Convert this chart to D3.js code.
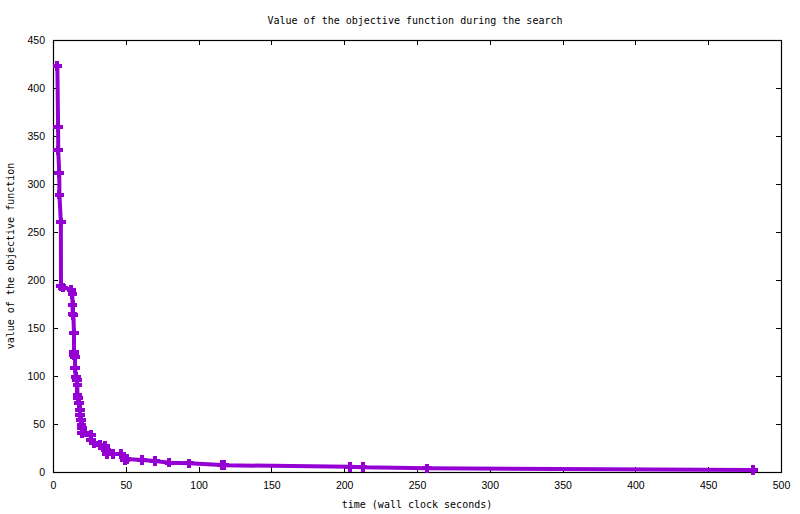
<!DOCTYPE html>
<html>
<head>
<meta charset="utf-8">
<script src="https://cdn.jsdelivr.net/npm/d3@7"></script>
<style>
  body { margin: 0; background: #fff; }
  svg { display: block; }
  .tick text { font-family: "Liberation Sans", Arial, sans-serif; font-size: 10.5px; fill: #000; }
  .lbl { font-family: "DejaVu Sans Mono", monospace; font-size: 10px; fill: #000; }
</style>
</head>
<body>
<svg id="chart" width="800" height="514"></svg>
<script>
// wall clock seconds and objective value at each improvement
const times = [3.0, 3.5, 3.6, 4.3, 4.4, 5.4, 5.5, 6.8, 12.6, 13.3, 13.4, 13.5, 14.0, 14.4, 14.4,
  14.5, 15.1, 15.2, 15.6, 16.3, 16.7, 16.8, 17.3, 17.8, 18.5, 18.6, 19.2, 19.6, 19.8, 19.8,
  22.0, 25.9, 26.0, 28.4, 32.3, 35.7, 36.4, 36.9, 41.4, 46.5, 48.3, 49.5, 50.5, 61.0, 70.0,
  80.0, 93.4, 115.9, 117.4, 204.0, 212.7, 257.0, 480.8];
const values = [423, 359, 335, 311, 289, 260, 194, 192, 190, 185, 174, 165, 163.5, 144.5, 125.3,
  122, 119.4, 108, 99.3, 95.8, 90.6, 80.2, 76.7, 71.5, 64.6, 59.4, 54.2, 49, 45.5, 40.3,
  41, 38.5, 33.3, 29.9, 28, 27, 23, 18.8, 18.8, 18.8, 16, 12.5, 13.5, 12.5, 11.5,
  9.7, 9, 7.3, 7, 5.5, 4.9, 3.8, 2.1];
const xTicks = [0, 50, 100, 150, 200, 250, 300, 350, 400, 450, 500];
const yTicks = [0, 50, 100, 150, 200, 250, 300, 350, 400, 450];

const width = 800, height = 514;
const margin = { left: 53, right: 19, top: 40, bottom: 42 };
const color = '#9400d3';

const svg = d3.select('#chart');

const x = d3.scaleLinear().domain([0, 500]).range([margin.left, width - margin.right]);
const y = d3.scaleLinear().domain([0, 450]).range([height - margin.bottom, margin.top]);

const pts = times.map((t, i) => [t, values[i]]);

// axes with inward ticks, mirrored on top and right
svg.append('g')
  .attr('transform', `translate(0,${y(0)})`)
  .call(d3.axisBottom(x).tickValues(xTicks).tickSizeInner(-5).tickSizeOuter(0).tickPadding(10))
  .call(g => g.select('.domain').remove());
svg.append('g')
  .attr('transform', `translate(0,${y(450)})`)
  .call(d3.axisTop(x).tickValues(xTicks).tickSizeInner(-5).tickSizeOuter(0).tickFormat(''))
  .call(g => g.select('.domain').remove());
svg.append('g')
  .attr('transform', `translate(${x(0)},0)`)
  .call(d3.axisLeft(y).tickValues(yTicks).tickSizeInner(-5).tickSizeOuter(0).tickPadding(8))
  .call(g => g.select('.domain').remove());
svg.append('g')
  .attr('transform', `translate(${x(500)},0)`)
  .call(d3.axisRight(y).tickValues(yTicks).tickSizeInner(-5).tickSizeOuter(0).tickFormat(''))
  .call(g => g.select('.domain').remove());

svg.selectAll('.tick line').attr('shape-rendering', 'crispEdges');

// border
svg.append('rect')
  .attr('x', x(0) + 0.5)
  .attr('y', y(450) + 0.5)
  .attr('width', x(500) - x(0))
  .attr('height', y(0) - y(450))
  .attr('fill', 'none')
  .attr('stroke', '#000')
  .attr('stroke-width', 1.2);

// line
const line = d3.line().x(d => x(d[0])).y(d => y(d[1]));
svg.append('path')
  .datum(pts)
  .attr('d', line)
  .attr('fill', 'none')
  .attr('stroke', color)
  .attr('stroke-width', 4)
  .attr('stroke-linejoin', 'miter');

// plus markers
const r = 4.8;
svg.selectAll('.pt')
  .data(pts)
  .enter()
  .append('path')
  .attr('class', 'pt')
  .attr('d', d => {
    const cx = x(d[0]), cy = y(d[1]);
    return `M${cx - r},${cy}H${cx + r}M${cx},${cy - r}V${cy + r}`;
  })
  .attr('stroke', color)
  .attr('stroke-width', 4)
  .attr('shape-rendering', 'crispEdges');

// titles
svg.append('text')
  .attr('class', 'lbl')
  .attr('x', 415)
  .attr('y', 24)
  .attr('text-anchor', 'middle')
  .text('Value of the objective function during the search');

svg.append('text')
  .attr('class', 'lbl')
  .attr('x', 417)
  .attr('y', 508)
  .attr('text-anchor', 'middle')
  .text('time (wall clock seconds)');

svg.append('text')
  .attr('class', 'lbl')
  .attr('transform', `translate(14,${(y(0) + y(450)) / 2}) rotate(-90)`)
  .attr('text-anchor', 'middle')
  .text('value of the objective function');
</script>
</body>
</html>
